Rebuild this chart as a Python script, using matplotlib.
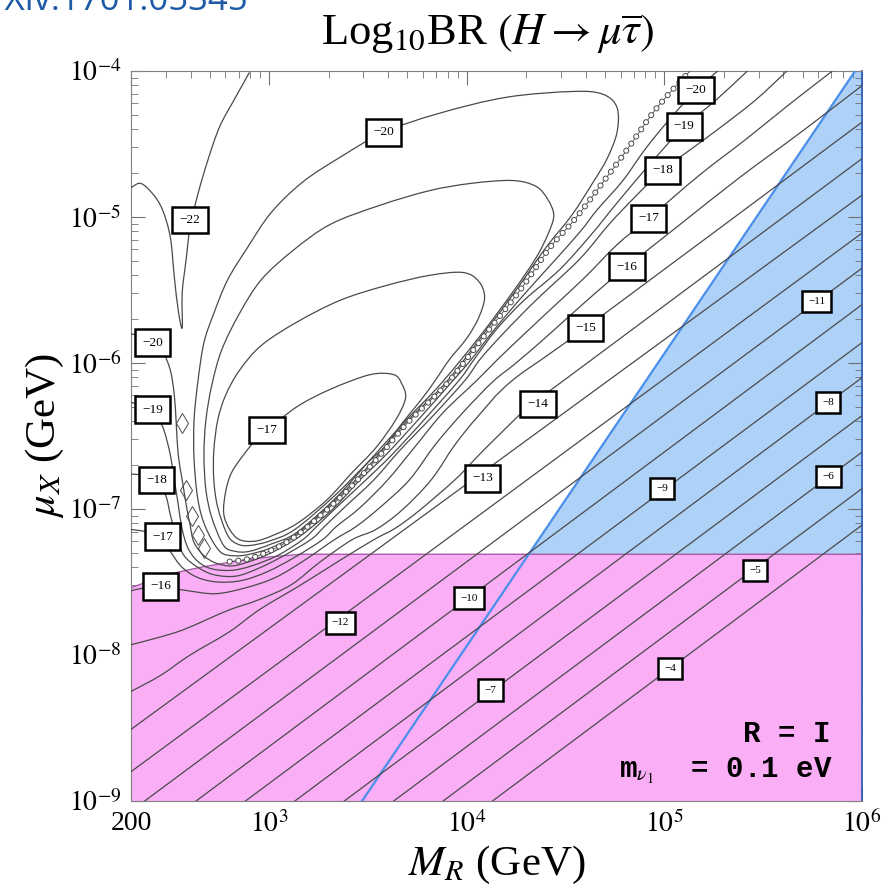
import matplotlib
matplotlib.use("Agg")
import matplotlib.pyplot as plt
import numpy as np
from matplotlib.path import Path
from matplotlib.patches import PathPatch
from matplotlib.ticker import FixedLocator, FixedFormatter, LogLocator, NullFormatter

plt.rcParams.update({
    "font.family": ["Liberation Serif", "DejaVu Serif"],
    "mathtext.fontset": "stix",
    "xtick.direction": "in",
    "ytick.direction": "in",
    "xtick.top": True,
    "ytick.right": True,
})

LINE = "#4a4a4a"
PINK = "#f9aef6"
BLUE_FILL = "#aed1f7"
BLUE_EDGE = "#4a8fea"
PINK_EDGE = "#a65aa8"

# all paths are (log10 M_R/GeV, log10 mu_X/GeV)

# mu_X lower bound (pink) and perturbativity line (blue)
mu_bound = [(2.30, -7.54), (2.40, -7.49), (2.48, -7.45), (2.65, -7.40), (2.82, -7.36),
            (2.99, -7.33), (3.16, -7.31), (6.00, -7.31)]
yukawa_bound = [(3.47, -9.00), (5.965, -4.00)]

# straight iso-BR lines in the heavy region
diag_levels = [-4, -5, -6, -7, -8, -9, -10, -11, -12, -13]
diag_start = [(4.13, -9.00), (3.88, -9.00), (3.63, -9.00), (3.38, -9.00), (3.13, -9.00),
              (2.88, -9.00), (2.63, -9.00), (2.37, -9.00), (2.30, -8.80), (2.30, -8.51)]
diag_end = [(6.00, -7.11), (6.00, -6.86), (6.00, -6.61), (6.00, -6.36), (6.00, -6.10),
            (6.00, -5.86), (6.00, -5.60), (6.00, -5.35), (6.00, -5.11), (6.00, -4.85)]

br_m14 = [(6.00, -4.60), (4.49, -6.12), (4.32, -6.29), (4.15, -6.51), (4.04, -6.66), (3.94, -6.80),
          (3.76, -7.01), (3.64, -7.13), (3.53, -7.21), (3.36, -7.35), (3.16, -7.52), (2.95, -7.69),
          (2.80, -7.84), (2.60, -8.00), (2.45, -8.14), (2.30, -8.25)]
br_m15 = [(6.00, -4.35), (4.60, -5.76), (4.23, -6.12), (4.06, -6.36), (3.94, -6.56), (3.82, -6.80),
          (3.67, -7.01), (3.54, -7.14), (3.42, -7.21), (3.26, -7.36), (3.11, -7.52), (2.95, -7.62),
          (2.80, -7.69), (2.68, -7.76), (2.56, -7.83), (2.44, -7.88), (2.30, -7.93)]
br_m16 = [(6.00, -4.10), (5.69, -4.42), (5.38, -4.73), (5.08, -5.05), (4.81, -5.34), (4.66, -5.51),
          (4.51, -5.69), (4.37, -5.86), (4.24, -6.01), (4.13, -6.13), (3.98, -6.34), (3.84, -6.56),
          (3.71, -6.80), (3.56, -6.99), (3.44, -7.12), (3.33, -7.21), (3.18, -7.35), (3.03, -7.47),
          (2.88, -7.54), (2.73, -7.58), (2.59, -7.56), (2.45, -7.53), (2.37, -7.54), (2.30, -7.56)]
br_m17 = [(5.85, -4.00), (5.64, -4.22), (5.41, -4.47), (5.18, -4.71), (4.92, -5.01), (4.76, -5.19),
          (4.60, -5.41), (4.45, -5.60), (4.30, -5.79), (4.16, -5.97), (4.05, -6.12), (3.88, -6.34),
          (3.74, -6.57), (3.60, -6.80), (3.46, -6.99), (3.34, -7.12), (3.27, -7.21), (3.13, -7.33),
          (2.99, -7.43), (2.86, -7.49), (2.74, -7.50), (2.64, -7.47), (2.56, -7.40), (2.50, -7.29),
          (2.46, -7.19), (2.40, -7.16), (2.30, -7.14)]
br_m18 = [(5.62, -4.00), (5.46, -4.20), (5.28, -4.39), (5.13, -4.54), (4.99, -4.68), (4.86, -4.85),
          (4.72, -5.05), (4.57, -5.29), (4.35, -5.57), (4.19, -5.79), (4.07, -5.97), (3.99, -6.12),
          (3.83, -6.36), (3.66, -6.60), (3.53, -6.80), (3.38, -6.99), (3.28, -7.12), (3.21, -7.21),
          (3.06, -7.33), (2.94, -7.41), (2.83, -7.46), (2.72, -7.45), (2.64, -7.40), (2.57, -7.32),
          (2.53, -7.19), (2.50, -7.04), (2.48, -6.92), (2.45, -6.84), (2.43, -6.80), (2.37, -6.77),
          (2.30, -6.76)]
br_m19 = [(5.42, -4.00), (5.26, -4.20), (5.10, -4.38), (4.99, -4.54), (4.88, -4.71), (4.75, -4.92),
          (4.63, -5.12), (4.47, -5.36), (4.29, -5.57), (4.15, -5.77), (4.04, -5.97), (3.96, -6.12),
          (3.79, -6.38), (3.62, -6.63), (3.49, -6.80), (3.34, -6.99), (3.24, -7.12), (3.17, -7.21),
          (3.04, -7.32), (2.91, -7.39), (2.81, -7.42), (2.71, -7.41), (2.64, -7.36), (2.59, -7.27),
          (2.56, -7.14), (2.54, -6.97), (2.52, -6.80), (2.50, -6.63), (2.47, -6.47), (2.44, -6.38),
          (2.41, -6.32), (2.36, -6.29), (2.30, -6.27)]
br_m20 = [(5.27, -4.00), (5.16, -4.13), (5.02, -4.34), (4.90, -4.54), (4.79, -4.75), (4.66, -4.95),
          (4.58, -5.09), (4.45, -5.29), (4.29, -5.53), (4.14, -5.77), (4.02, -5.98), (3.93, -6.12),
          (3.76, -6.38), (3.59, -6.63), (3.46, -6.80), (3.33, -6.99), (3.21, -7.13), (3.13, -7.21),
          (3.01, -7.30), (2.90, -7.36), (2.81, -7.39), (2.73, -7.37), (2.67, -7.32), (2.62, -7.23),
          (2.60, -7.11), (2.58, -6.97), (2.56, -6.80), (2.54, -6.63), (2.53, -6.42), (2.52, -6.22),
          (2.50, -6.05), (2.46, -5.92), (2.41, -5.86), (2.36, -5.82), (2.30, -5.80)]
br_m22 = [(2.30, -4.80), (2.35, -4.77), (2.41, -4.84), (2.46, -4.95), (2.50, -5.14), (2.52, -5.41),
          (2.54, -5.64), (2.56, -5.76), (2.56, -5.52), (2.58, -5.29), (2.60, -5.07), (2.64, -4.84),
          (2.69, -4.61), (2.75, -4.38), (2.83, -4.18), (2.90, -4.01)]

# closed loops around the local maximum
loop_m20 = [(2.75, -7.29), (2.68, -7.13), (2.64, -6.94), (2.62, -6.66), (2.62, -6.39), (2.64, -6.12),
            (2.67, -5.86), (2.72, -5.66), (2.79, -5.43), (2.89, -5.21), (3.01, -4.97), (3.17, -4.76),
            (3.36, -4.59), (3.58, -4.42), (3.86, -4.29), (4.20, -4.18), (4.54, -4.14), (4.69, -4.16),
            (4.76, -4.25), (4.76, -4.42), (4.71, -4.60), (4.64, -4.76), (4.53, -4.99), (4.40, -5.21),
            (4.25, -5.50), (4.08, -5.81), (3.89, -6.14), (3.69, -6.41), (3.52, -6.68), (3.35, -6.92),
            (3.15, -7.16), (3.02, -7.26), (2.90, -7.31), (2.82, -7.32), (2.75, -7.29)]
loop_m19 = [(2.77, -7.25), (2.71, -7.06), (2.68, -6.87), (2.67, -6.63), (2.68, -6.39), (2.71, -6.15),
            (2.76, -5.91), (2.85, -5.66), (2.96, -5.43), (3.12, -5.23), (3.31, -5.05), (3.56, -4.92),
            (3.81, -4.82), (4.02, -4.77), (4.23, -4.75), (4.35, -4.79), (4.41, -4.88), (4.44, -4.99),
            (4.41, -5.12), (4.35, -5.28), (4.24, -5.50), (4.07, -5.81), (3.87, -6.14), (3.68, -6.41),
            (3.50, -6.68), (3.34, -6.92), (3.14, -7.16), (3.01, -7.24), (2.90, -7.29), (2.83, -7.29),
            (2.77, -7.25)]
loop_m18 = [(2.79, -7.18), (2.74, -6.99), (2.72, -6.80), (2.72, -6.60), (2.74, -6.39), (2.78, -6.22),
            (2.85, -6.05), (2.96, -5.88), (3.14, -5.72), (3.36, -5.57), (3.59, -5.47), (3.81, -5.40),
            (3.98, -5.38), (4.06, -5.44), (4.09, -5.55), (4.06, -5.69), (4.00, -5.83), (3.91, -5.98),
            (3.84, -6.12), (3.77, -6.25), (3.68, -6.40), (3.58, -6.58), (3.50, -6.68), (3.33, -6.91),
            (3.13, -7.14), (3.00, -7.22), (2.90, -7.25), (2.84, -7.24), (2.79, -7.18)]
loop_m17 = [(3.69, -6.24), (3.64, -6.39), (3.54, -6.58), (3.42, -6.75), (3.29, -6.94), (3.14, -7.10),
            (3.02, -7.18), (2.93, -7.22), (2.85, -7.21), (2.80, -7.14), (2.77, -7.03), (2.78, -6.88),
            (2.81, -6.75), (2.87, -6.63), (2.93, -6.53), (2.99, -6.46), (3.14, -6.30), (3.31, -6.18),
            (3.51, -6.08), (3.63, -6.08), (3.67, -6.14), (3.69, -6.24)]

# cancellation valley (BR -> 0)
valley = [(2.80, -7.36), (2.90, -7.34), (3.03, -7.27), (3.16, -7.16), (3.36, -6.92), (3.53, -6.68),
          (3.70, -6.41), (3.90, -6.14), (4.09, -5.81), (4.27, -5.50), (4.42, -5.21), (4.55, -5.01),
          (4.69, -4.76), (4.81, -4.54), (4.94, -4.29), (5.04, -4.13), (5.13, -4.00)]
valley_islands = [(2.56, -6.41), (2.58, -6.87), (2.61, -7.05), (2.64, -7.18), (2.67, -7.27)]

open_curves = [br_m14, br_m15, br_m16, br_m17, br_m18, br_m19, br_m20, br_m22]
closed_curves = [loop_m20, loop_m19, loop_m18, loop_m17]

# inline labels: (level, log10 M_R, log10 mu_X, small font)
labels = [(-22, 2.60, -5.02, False), (-20, 3.58, -4.42, False), (-20, 2.41, -5.86, False),
          (-19, 2.41, -6.32, False), (-18, 2.43, -6.80, False), (-17, 2.46, -7.19, False),
          (-16, 2.45, -7.53, False), (-17, 2.99, -6.46, False), (-12, 3.36, -7.78, True),
          (-10, 4.01, -7.61, True), (-7, 4.12, -8.24, True), (-13, 4.08, -6.79, False),
          (-14, 4.36, -6.28, False), (-15, 4.60, -5.76, False), (-16, 4.81, -5.34, False),
          (-17, 4.92, -5.01, False), (-18, 4.99, -4.68, False), (-19, 5.10, -4.38, False),
          (-20, 5.16, -4.13, False), (-11, 5.77, -5.58, True), (-8, 5.83, -6.27, True),
          (-6, 5.83, -6.78, True), (-9, 4.99, -6.86, True), (-5, 5.46, -7.42, True),
          (-4, 5.03, -8.09, True)]


def dec(path):
    a = np.asarray(path, float)
    return 10 ** a[:, 0], 10 ** a[:, 1]


def smooth(path, closed=False):
    """Catmull-Rom curve through the points, built in log space as cubic Beziers."""
    p = np.asarray(path, float)
    if closed:
        p = p[:-1]
    n = len(p)
    verts, codes = [p[0]], [Path.MOVETO]
    for i in range(n if closed else n - 1):
        p1, p2 = p[i], p[(i + 1) % n]
        p0 = p[(i - 1) % n] if (closed or i > 0) else p1
        p3 = p[(i + 2) % n] if (closed or i + 2 < n) else p2
        verts += [p1 + (p2 - p0) / 6, p2 - (p3 - p1) / 6, p2]
        codes += [Path.CURVE4] * 3
    return Path(10 ** np.array(verts), codes)


fig = plt.figure(figsize=(8.95, 8.93), dpi=100)
ax = fig.add_axes([0.1464, 0.1030, 0.8168, 0.8175])
ax.set_xscale("log")
ax.set_yscale("log")
ax.set_xlim(200, 1e6)
ax.set_ylim(1e-9, 1e-4)

# shaded exclusions
bx, by = dec(yukawa_bound)
ax.fill([bx[0], bx[1], 1e6, 1e6], [by[0], by[1], 1e-4, 1e-9], color=BLUE_FILL, lw=0, zorder=1)
mx, my = dec(mu_bound)
ax.fill_between(mx, 1e-9, my, color=PINK, lw=0, zorder=2)
ax.plot(mx, my, color=PINK_EDGE, lw=1.0, zorder=3)
ax.plot(bx, by, color=BLUE_EDGE, lw=1.6, zorder=4)

# contours
for s, e in zip(diag_start, diag_end):
    x, y = dec([s, e])
    ax.plot(x, y, color=LINE, lw=0.9, zorder=5)
for path in open_curves:
    ax.add_patch(PathPatch(smooth(path), fill=False, ec=LINE, lw=0.9, zorder=5))
for path in closed_curves:
    ax.add_patch(PathPatch(smooth(path, closed=True), fill=False, ec=LINE, lw=0.9, zorder=5))

# valley drawn as a chain of tiny rings
vpath = smooth(valley)
ring_out, ring_in, gap = 4.4, 3.0, 6.2
ax.add_patch(PathPatch(vpath, fill=False, ec=LINE, lw=0.6, zorder=5))
ax.add_patch(PathPatch(vpath, fill=False, ec=LINE, lw=ring_out,
                       ls=(0, (0.01, gap / ring_out)), capstyle="round", zorder=5))
ax.add_patch(PathPatch(vpath, fill=False, ec="white", lw=ring_in,
                       ls=(0, (0.01 * ring_out / ring_in, gap / ring_in)), capstyle="round", zorder=5))
x, y = dec(valley_islands)
ax.plot(x, y, ls="none", marker="d", ms=10, mfc="none", mec=LINE, mew=0.7, zorder=5)

for lev, lx, ly, small in labels:
    fs = 8 if small else 9.5
    ax.text(10 ** lx, 10 ** ly, "\u2212%d" % abs(lev), ha="center", va="center", fontsize=fs,
            zorder=7, bbox=dict(boxstyle="square,pad=0.55", fc="white", ec="black", lw=1.8))

# axes decoration
ax.xaxis.set_major_locator(FixedLocator([200, 1e3, 1e4, 1e5, 1e6]))
ax.xaxis.set_major_formatter(FixedFormatter(["200", r"$10^{3}$", r"$10^{4}$", r"$10^{5}$", r"$10^{6}$"]))
ax.xaxis.set_minor_locator(LogLocator(base=10, subs=np.arange(2, 10), numticks=20))
ax.xaxis.set_minor_formatter(NullFormatter())
ax.yaxis.set_major_locator(FixedLocator([1e-9, 1e-8, 1e-7, 1e-6, 1e-5, 1e-4]))
ax.yaxis.set_major_formatter(FixedFormatter([r"$10^{-9}$", r"$10^{-8}$", r"$10^{-7}$",
                                             r"$10^{-6}$", r"$10^{-5}$", r"$10^{-4}$"]))
ax.yaxis.set_minor_locator(LogLocator(base=10, subs=np.arange(2, 10), numticks=20))
ax.yaxis.set_minor_formatter(NullFormatter())
ax.tick_params(which="major", length=10, width=0.8, color="#707070", labelsize=20, pad=7)
ax.tick_params(which="minor", length=5, width=0.6, color="#707070")
for side in ("left", "top", "bottom"):
    ax.spines[side].set_color("#808080")
ax.spines["right"].set_color("#2f5fb3")
ax.spines["right"].set_linewidth(1.3)

ax.set_xlabel(r"$M_R$ (GeV)", fontsize=31, labelpad=4)
ax.set_ylabel(r"$\mu_X$ (GeV)", fontsize=31, labelpad=2)

fig.text(0.545, 0.962, r"Log$_{10}$BR $(H \rightarrow \mu\overline{\tau})$", ha="center",
         va="center", fontsize=32)
fig.text(248 / 895, 1 - 10 / 893, "arXiv:1701.05345", ha="right", va="baseline",
         color="#1f5aa6", fontsize=25, family=["Open Sans", "DejaVu Sans"])

fig.text(0.928, 0.169, "R = I", ha="right", va="baseline", fontsize=21, weight="bold",
         family=["Liberation Mono", "DejaVu Sans Mono"])
fig.text(0.930, 0.130, r"m$_{\nu_1}$  = 0.1 eV", ha="right", va="baseline", fontsize=21,
         weight="bold", family=["Liberation Mono", "DejaVu Sans Mono"])

fig.savefig("out.png", dpi=100)
